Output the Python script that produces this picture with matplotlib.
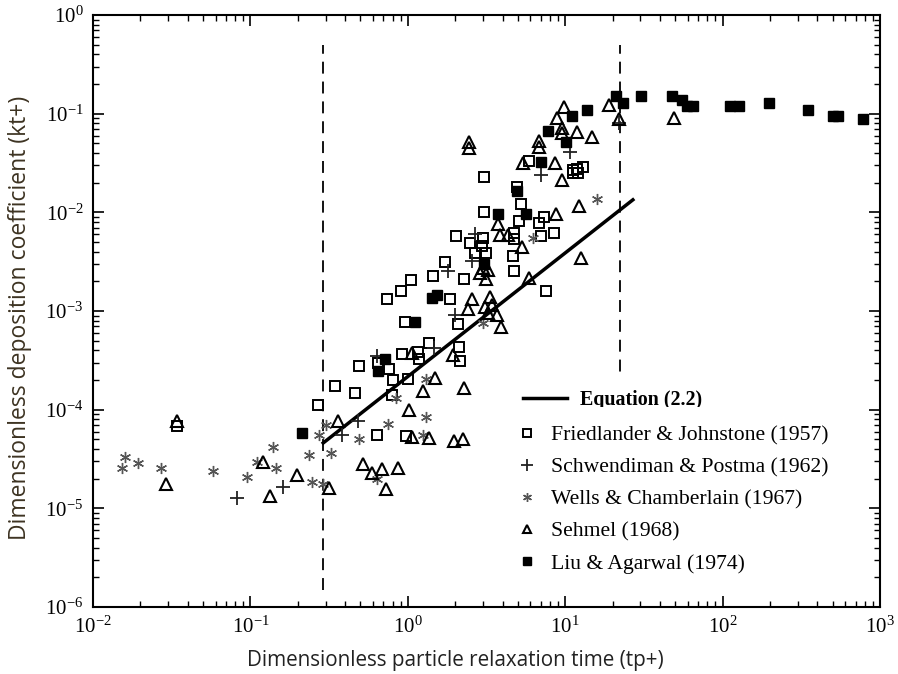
import matplotlib.pyplot as plt

# Friedlander & Johnstone (1957)
fj_tp = [0.268, 0.344, 0.461, 0.489, 0.645, 0.757, 0.736, 0.903, 1.045, 1.44, 1.72, 2.02,
         2.27, 1.85, 2.08, 0.957, 1.36, 0.916, 1.16, 1.17, 2.11, 2.14, 0.803, 1.0, 0.791,
         0.635, 0.971, 2.48, 2.99, 2.95, 2.67, 3.13, 3.04, 3.04, 4.71, 4.71, 4.65,
         4.71, 5.22, 4.93, 5.07, 6.80, 7.31, 7.00, 8.46, 7.53, 5.87, 11.2, 11.9, 12.9,
         11.2, 12.0, 0.0341]
fj_kt = [1.12e-4, 1.74e-4, 1.48e-4, 2.78e-4, 2.98e-4, 2.59e-4, 1.33e-3, 1.60e-3, 2.07e-3,
         2.27e-3, 3.14e-3, 5.77e-3, 2.11e-3, 1.33e-3, 7.40e-4, 7.76e-4, 4.75e-4, 3.67e-4,
         3.85e-4, 3.27e-4, 4.33e-4, 3.12e-4, 2.00e-4, 2.05e-4, 1.41e-4, 5.56e-5, 5.43e-5,
         4.90e-3, 5.50e-3, 4.57e-3, 3.88e-3, 3.88e-3, 2.28e-2, 1.01e-2, 6.18e-3,
         5.37e-3, 3.62e-3, 2.55e-3, 1.22e-2, 1.81e-2, 8.18e-3, 7.81e-3, 8.98e-3, 5.77e-3,
         6.18e-3, 1.60e-3, 3.32e-2, 2.69e-2, 2.75e-2, 2.88e-2, 2.51e-2, 2.51e-2, 6.86e-5]

# Schwendiman & Postma (1962)
sp_tp = [0.082, 0.161, 0.381, 0.481, 0.635, 1.46, 1.99, 1.80, 2.67, 2.55, 7.00, 10.7, 21.9]
sp_kt = [1.28e-5, 1.65e-5, 5.56e-5, 7.71e-5, 3.51e-4, 4.23e-4, 9.13e-4, 2.55e-3, 6.04e-3,
         3.22e-3, 2.39e-2, 4.09e-2, 8.05e-2]

# Wells & Chamberlain (1967)
wc_tp = [0.0159, 0.0152, 0.0193, 0.027, 0.0577, 0.0949, 0.110, 0.139, 0.145, 0.235, 0.272,
         0.245, 0.288, 0.301, 0.324, 0.489, 0.746, 0.635, 1.30, 1.25, 1.30, 0.839, 2.99,
         6.22, 15.9]
wc_kt = [3.32e-5, 2.57e-5, 2.89e-5, 2.57e-5, 2.40e-5, 2.09e-5, 2.96e-5, 4.20e-5, 2.57e-5,
         3.48e-5, 5.56e-5, 1.86e-5, 1.77e-5, 7.02e-5, 3.65e-5, 5.06e-5, 7.18e-5, 1.99e-5,
         8.45e-5, 5.56e-5, 2.05e-4, 1.32e-4, 7.57e-4, 5.50e-3, 1.37e-2]

# Sehmel (1968)
se_tp = [0.029, 0.0341, 0.120, 0.133, 0.197, 0.315, 0.359, 0.518, 0.590, 0.684, 0.863, 0.725,
         1.06, 1.36, 1.96, 2.24, 1.015, 1.25, 2.27, 1.48, 1.06, 1.93, 2.41, 2.55, 3.32, 3.42,
         3.08, 3.22, 3.68, 3.90, 3.13, 2.87, 3.22, 2.99, 3.73, 3.84, 4.32, 5.30, 5.87, 8.72,
         12.2, 12.6, 9.51, 5.38, 8.59, 6.80, 6.80, 2.44, 2.44, 9.80, 8.85, 9.51, 9.51, 11.9,
         14.8, 18.9, 21.9, 49.0]
se_kt = [1.77e-5, 7.71e-5, 2.96e-5, 1.34e-5, 2.19e-5, 1.61e-5, 7.71e-5, 2.82e-5, 2.29e-5,
         2.51e-5, 2.57e-5, 1.58e-5, 5.30e-5, 5.18e-5, 4.83e-5, 5.06e-5, 9.95e-5, 1.55e-4,
         1.66e-4, 2.10e-4, 3.76e-4, 3.59e-4, 1.05e-3, 1.33e-3, 1.39e-3, 1.15e-3, 1.10e-3,
         9.57e-4, 9.13e-4, 6.90e-4, 2.11e-3, 2.43e-3, 2.61e-3, 2.73e-3, 7.63e-3, 5.90e-3,
         5.90e-3, 4.46e-3, 2.16e-3, 9.64e-3, 1.16e-2, 3.45e-3, 2.13e-2, 3.16e-2, 3.16e-2,
         5.29e-2, 4.60e-2, 5.17e-2, 4.49e-2, 0.117, 0.0904, 0.0716, 0.0637, 0.0653, 0.0581,
         0.123, 0.0883, 0.0904]

# Liu & Agarwal (1974)
la_tp = [0.212, 0.714, 0.645, 1.11, 1.42, 1.53, 3.04, 3.73, 5.62, 4.93, 7.00, 7.75, 10.1,
         11.0, 13.7, 21.0, 23.2, 30.2, 47.6, 55.1, 59.3, 64.7, 111, 127, 197, 348, 501, 540, 778]
la_kt = [5.82e-5, 3.27e-4, 2.47e-4, 7.76e-4, 1.36e-3, 1.46e-3, 3.00e-3, 9.64e-3, 9.64e-3,
         1.65e-2, 3.24e-2, 6.68e-2, 5.17e-2, 9.48e-2, 0.109, 0.151, 0.128, 0.151, 0.151,
         0.138, 0.120, 0.120, 0.120, 0.120, 0.128, 0.109, 0.0948, 0.0948, 0.0883]

# Equation (2.2) end points and regime boundaries
eq_tp = [0.29, 26.9]
eq_kt = [4.6e-5, 1.34e-2]
bounds_tp = [0.288, 22.2]

plt.rcParams['font.family'] = 'serif'
plt.rcParams['font.serif'] = ['Liberation Serif', 'DejaVu Serif']
plt.rcParams['mathtext.fontset'] = 'stix'

fig = plt.figure(figsize=(8.98, 6.74), dpi=100)
ax = fig.add_axes([0.1036, 0.0994, 0.8764, 0.8783])
ax.set_xscale('log')
ax.set_yscale('log')

for b in bounds_tp:
    ax.plot([b, b], [1.5e-6, 0.5], color='black', lw=1.3, ls=(0, (6.6, 4.4)))

eq_line, = ax.plot(eq_tp, eq_kt, color='black', lw=2.5)

h_fj, = ax.plot(fj_tp, fj_kt, 's', mfc='none', mec='black', ms=6.5, mew=1.4, ls='none')
h_sp, = ax.plot(sp_tp, sp_kt, '+', color='#222222', ms=10, mew=1.3, ls='none')
h_wc, = ax.plot(wc_tp, wc_kt, marker=(6, 2, 0), color='#555555', ms=8, mew=1.0, ls='none')
h_se, = ax.plot(se_tp, se_kt, '^', mfc='none', mec='black', ms=8, mew=1.5, ls='none')
h_la, = ax.plot(la_tp, la_kt, 's', color='black', ms=6.5, ls='none')

ax.set_xlim(1e-2, 1e3)
ax.set_ylim(1e-6, 1)

ax.tick_params(which='both', direction='in', top=True, right=True, labelsize=15)
ax.tick_params(which='major', length=8, width=1.2, pad=7)
ax.tick_params(which='minor', length=4.5, width=1.0)
for s in ax.spines.values():
    s.set_linewidth(1.5)

ax.set_xlabel('Dimensionless particle relaxation time (tp+)', family='Open Sans',
              fontsize=14.9, color='#222222')
ax.xaxis.set_label_coords(0.46, -0.072)
ax.set_ylabel('Dimensionless deposition coefficient (kt+)', family='Open Sans',
              fontsize=16.5, color='#3d3322')
ax.yaxis.set_label_coords(-0.0775, 0.488)

leg1 = ax.legend([eq_line], ['Equation (2.2)'], loc='center left',
                 bbox_to_anchor=(0.5305, 0.35), frameon=True, fancybox=False,
                 facecolor='white', edgecolor='none', framealpha=1, borderpad=0.6,
                 borderaxespad=0, handlelength=2.2, handletextpad=0.65,
                 prop={'size': 14.4, 'weight': 'bold'})
ax.add_artist(leg1)
leg2 = ax.legend([h_fj, h_sp, h_wc, h_se, h_la],
                 ['Friedlander & Johnstone (1957)', 'Schwendiman & Postma (1962)',
                  'Wells & Chamberlain (1967)', 'Sehmel (1968)', 'Liu & Agarwal (1974)'],
                 loc='center left', bbox_to_anchor=(0.518, 0.182), frameon=True,
                 fancybox=False, facecolor='white', edgecolor='none', framealpha=1,
                 borderpad=0.85, borderaxespad=0, handlelength=0.7, handletextpad=0.75,
                 labelspacing=0.55, numpoints=1, markerscale=0.8, prop={'size': 15.6})

fig.savefig('out.png', dpi=100)
